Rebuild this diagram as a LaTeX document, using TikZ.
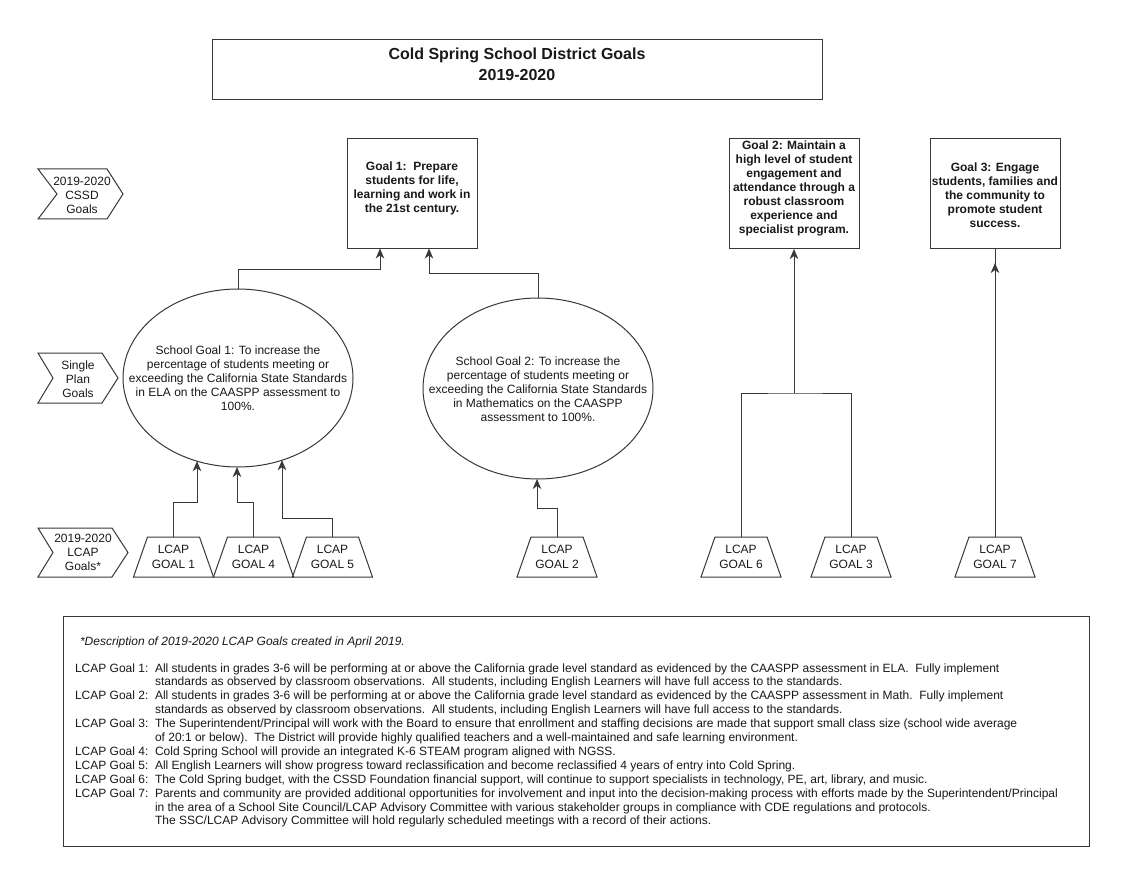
\documentclass[tikz,border=0pt]{standalone}
\usepackage{fontspec}
\setmainfont{Liberation Sans}
\usetikzlibrary{arrows.meta,shapes.geometric,calc}
\newcommand\lcapshape[1]{\draw[ln] (#1.south west) -- ([xshift=14pt]#1.north west) -- ([xshift=-14pt]#1.north east) -- (#1.south east) -- cycle;}
\begin{document}
\begin{tikzpicture}[x=1pt,y=-1pt,
  every node/.style={inner sep=0pt, outer sep=0pt, text=black!90},
  ln/.style={draw=black!78, line width=1pt},
  arr/.style={ln, -{Stealth[length=10pt,width=8.5pt,inset=3pt]}},
  t12/.style={font=\fontsize{12}{14}\selectfont, align=center},
  bt12/.style={font=\bfseries\fontsize{12}{14}\selectfont, align=center},
  goalbox/.style={ln, minimum width=130pt, minimum height=110pt},
  ell/.style={ln, ellipse, minimum width=230pt},
  lcapbox/.style={minimum width=80pt, minimum height=40pt, align=center, font=\fontsize{12}{15}\selectfont},
  desc/.style={anchor=base west, font=\fontsize{12}{14}\selectfont}
]
\useasboundingbox (0,0) rectangle (1140,877);
\fill[white] (0,0) rectangle (1140,877);

% title
\node[ln, minimum width=610pt, minimum height=60pt] (title) at (517,70) {};
\node[font=\bfseries\fontsize{16}{21}\selectfont, align=center] (titletext) at (517,64.5) {Cold Spring School District Goals\\2019-2020};

% row labels
\draw[ln] (38,169) -- (107,169) -- (123,194) -- (107,219) -- (38,219) -- (57,194) -- cycle;
\node[t12] (c1) at (82,195) {2019-2020\\CSSD\\Goals};
\draw[ln] (38,353) -- (102,353) -- (118,378) -- (102,403) -- (38,403) -- (53,378) -- cycle;
\node[t12] (c2) at (78,379) {Single\\Plan\\Goals};
\draw[ln] (38,528) -- (112,528) -- (128,552.5) -- (112,577) -- (38,577) -- (53,552.5) -- cycle;
\node[t12] (c3) at (83,552.5) {2019-2020\\LCAP\\Goals*};

% district goals
\node[goalbox] (g1) at (412,193.5) {};
\node[bt12] (g1t) at (412,188) {Goal 1:\ \ Prepare\\students for life,\\learning and work in\\the 21st century.};
\node[goalbox] (g2) at (794,194) {};
\node[bt12] (g2t) at (794,188) {Goal 2: Maintain a\\high level of student\\engagement and\\attendance through a\\robust classroom\\experience and\\specialist program.};
\node[goalbox] (g3) at (995,194) {};
\node[bt12] (g3t) at (995,195) {Goal 3: Engage\\students, families and\\the community to\\promote student\\success.};

% school goals
\node[ell, minimum height=178pt] (e1) at (238,378) {};
\node[t12] (e1t) at (238,378) {School Goal 1: To increase the\\percentage of students meeting or\\exceeding the California State Standards\\in ELA on the CAASPP assessment to\\100\%.};
\node[ell, minimum height=181pt] (e2) at (538,388.5) {};
\node[t12] (e2t) at (538,389) {School Goal 2: To increase the\\percentage of students meeting or\\exceeding the California State Standards\\in Mathematics on the CAASPP\\assessment to 100\%.};

% LCAP goals
\node[lcapbox] (l1) at (173.5,557) {LCAP\\GOAL 1}; \lcapshape{l1}
\node[lcapbox] (l4) at (253.5,557) {LCAP\\GOAL 4}; \lcapshape{l4}
\node[lcapbox] (l5) at (332.5,557) {LCAP\\GOAL 5}; \lcapshape{l5}
\node[lcapbox] (l2) at (557,557) {LCAP\\GOAL 2}; \lcapshape{l2}
\node[lcapbox] (l6) at (741,557) {LCAP\\GOAL 6}; \lcapshape{l6}
\node[lcapbox] (l3) at (851,557) {LCAP\\GOAL 3}; \lcapshape{l3}
\node[lcapbox] (l7) at (995,557) {LCAP\\GOAL 7}; \lcapshape{l7}

% connectors
\draw[arr] (e1.north) |- ([xshift=-32pt,yshift=-21pt]g1.south) -- ([xshift=-32pt]g1.south);
\draw[arr] (e2.north) |- ([xshift=17pt,yshift=-25pt]g1.south) -- ([xshift=17pt]g1.south);
\draw[arr] (l1.north) -- ++(0,-35) -| ($(e1.center)+(-41,83.2)$);
\draw[arr] (l4.north) -- ++(0,-35) -| ($(e1.center)+(-1,89)$);
\draw[arr] (l5.north) -- ++(0,-19) -| ($(e1.center)+(44,82.2)$);
\draw[arr] (l2.north) -- ++(0,-29) -| ($(e2.center)+(-1,90.5)$);
\coordinate (j) at (794,393);
\draw[ln] (l6.north) |- (j) -| (l3.north);
\draw[arr] (j) -- (g2.south);
\coordinate (g3a) at ([yshift=-14pt]g3.south);
\draw[ln] (l7.north) -- (g3.south);
\draw[arr] (l7.north) -- (g3a);

% notes
\node[ln, minimum width=1026pt, minimum height=230pt] (notes) at (576,731) {};
\node[desc, font=\itshape\fontsize{12}{14}\selectfont] (n0) at (80,645) {*Description of 2019-2020 LCAP Goals created in April 2019.};
\node[desc] (a1) at (75,672) {LCAP Goal 1:};
\node[desc] (b1) at (155,672) {All students in grades 3-6 will be performing at or above the California grade level standard as evidenced by the CAASPP assessment in ELA.\ \ Fully implement};
\node[desc] (b1b) at (155,685.9) {standards as observed by classroom observations.\ \ All students, including English Learners will have full access to the standards.};
\node[desc] (a2) at (75,699.8) {LCAP Goal 2:};
\node[desc] (b2) at (155,699.8) {All students in grades 3-6 will be performing at or above the California grade level standard as evidenced by the CAASPP assessment in Math.\ \ Fully implement};
\node[desc] (b2b) at (155,713.7) {standards as observed by classroom observations.\ \ All students, including English Learners will have full access to the standards.};
\node[desc] (a3) at (75,727.6) {LCAP Goal 3:};
\node[desc] (b3) at (155,727.6) {The Superintendent/Principal will work with the Board to ensure that enrollment and staffing decisions are made that support small class size (school wide average};
\node[desc] (b3b) at (155,741.5) {of 20:1 or below).\ \ The District will provide highly qualified teachers and a well-maintained and safe learning environment.};
\node[desc] (a4) at (75,755.4) {LCAP Goal 4:};
\node[desc] (b4) at (155,755.4) {Cold Spring School will provide an integrated K-6 STEAM program aligned with NGSS.};
\node[desc] (a5) at (75,769.3) {LCAP Goal 5:};
\node[desc] (b5) at (155,769.3) {All English Learners will show progress toward reclassification and become reclassified 4 years of entry into Cold Spring.};
\node[desc] (a6) at (75,783.2) {LCAP Goal 6:};
\node[desc] (b6) at (155,783.2) {The Cold Spring budget, with the CSSD Foundation financial support, will continue to support specialists in technology, PE, art, library, and music.};
\node[desc] (a7) at (75,797.1) {LCAP Goal 7:};
\node[desc] (b7) at (155,797.1) {Parents and community are provided additional opportunities for involvement and input into the decision-making process with efforts made by the Superintendent/Principal};
\node[desc] (b7b) at (155,811) {in the area of a School Site Council/LCAP Advisory Committee with various stakeholder groups in compliance with CDE regulations and protocols.};
\node[desc] (b7c) at (155,824.9) {The SSC/LCAP Advisory Committee will hold regularly scheduled meetings with a record of their actions.};
\end{tikzpicture}
\end{document}
